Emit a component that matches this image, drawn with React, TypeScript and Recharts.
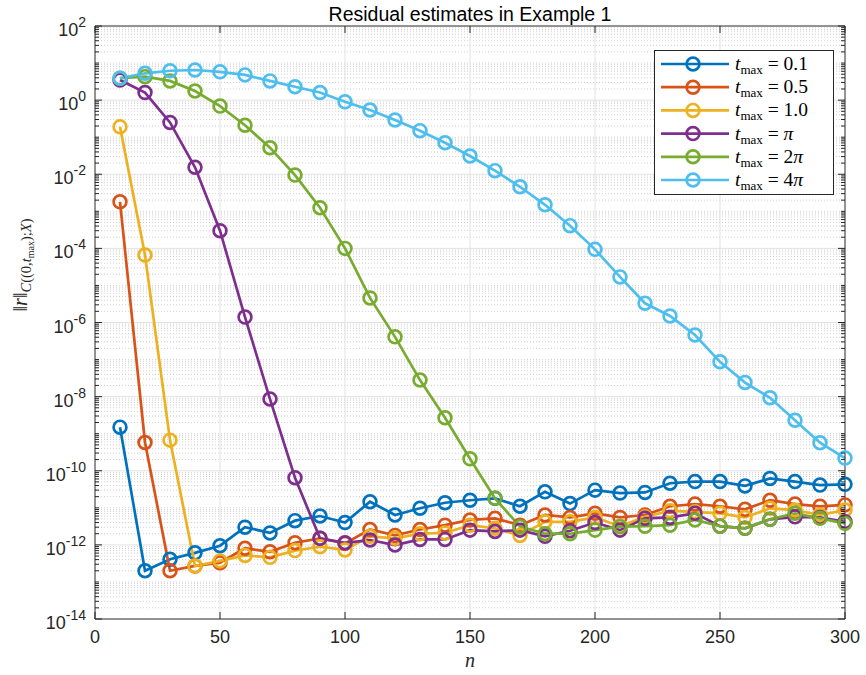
import { LineChart, Line, XAxis, YAxis, ReferenceLine, Legend } from 'recharts';

const CHART_W = 866;
const CHART_H = 675;
const MARGIN = { top: 26, right: 21, bottom: 0, left: 0 };
const Y_AXIS_W = 95;
const X_AXIS_H = 56;
const PLOT_W = CHART_W - MARGIN.left - MARGIN.right - Y_AXIS_W;
const PLOT_H = CHART_H - MARGIN.top - MARGIN.bottom - X_AXIS_H;

const AXIS = '#262626';
const SANS = '"Liberation Sans", Arial, Helvetica, sans-serif';
const SERIF = '"Liberation Serif", "Times New Roman", serif';

const nValues = [10, 20, 30, 40, 50, 60, 70, 80, 90, 100, 110, 120, 130, 140, 150, 160, 170, 180, 190, 200, 210, 220, 230, 240, 250, 260, 270, 280, 290, 300];

const resT01 = [1.5e-9, 2.0e-13, 4.1e-13, 6.1e-13, 9.5e-13, 3.0e-12, 2.1e-12, 4.5e-12, 6.0e-12, 4.0e-12, 1.46e-11, 6.4e-12, 9.7e-12, 1.37e-11, 1.6e-11, 1.8e-11, 1.1e-11, 2.7e-11, 1.3e-11, 3.0e-11, 2.5e-11, 2.6e-11, 4.6e-11, 5.1e-11, 5.1e-11, 3.9e-11, 6.2e-11, 5.1e-11, 4.1e-11, 4.3e-11];
const resT05 = [1.8e-3, 5.8e-10, 2.0e-13, 2.7e-13, 3.3e-13, 8.1e-13, 6.5e-13, 1.14e-12, 1.5e-12, 1.1e-12, 2.6e-12, 1.8e-12, 2.6e-12, 3.4e-12, 4.7e-12, 5.2e-12, 3.4e-12, 6.4e-12, 5.5e-12, 7.1e-12, 5.5e-12, 6.4e-12, 1.1e-11, 1.26e-11, 1.1e-11, 9.1e-12, 1.6e-11, 1.26e-11, 1.1e-11, 1.2e-11];
const resT1 = [0.19, 6.6e-5, 6.7e-10, 2.7e-13, 3.7e-13, 5.2e-13, 4.6e-13, 7.0e-13, 8.9e-13, 7.3e-13, 1.7e-12, 1.5e-12, 2.0e-12, 2.1e-12, 3.4e-12, 2.8e-12, 1.8e-12, 4.2e-12, 4.2e-12, 5.5e-12, 3.2e-12, 5.7e-12, 8.3e-12, 7.8e-12, 7.1e-12, 5.5e-12, 9.7e-12, 8.7e-12, 6.4e-12, 8.7e-12];
const resTPi = [3.5, 1.6, 0.25, 0.0154, 3.0e-4, 1.4e-6, 8.6e-9, 6.5e-11, 1.5e-12, 1.14e-12, 1.35e-12, 9.9e-13, 1.4e-12, 1.4e-12, 2.5e-12, 2.3e-12, 2.5e-12, 1.7e-12, 2.4e-12, 4.0e-12, 2.5e-12, 5.2e-12, 5.5e-12, 7.1e-12, 3.2e-12, 2.8e-12, 4.9e-12, 5.7e-12, 5.5e-12, 4.2e-12];
const resT2Pi = [3.9, 4.3, 3.3, 1.76, 0.69, 0.21, 0.052, 9.5e-3, 1.25e-3, 1.0e-4, 4.6e-6, 4.1e-7, 2.8e-8, 2.7e-9, 2.1e-10, 1.8e-11, 3.1e-12, 2.0e-12, 2.0e-12, 2.5e-12, 3.1e-12, 3.2e-12, 3.4e-12, 4.7e-12, 3.2e-12, 2.8e-12, 4.9e-12, 7.1e-12, 5.2e-12, 3.8e-12];
const resT4Pi = [3.9, 5.3, 6.2, 6.5, 5.8, 4.8, 3.3, 2.3, 1.6, 0.9, 0.54, 0.29, 0.15, 0.071, 0.031, 0.0125, 4.6e-3, 1.5e-3, 4.1e-4, 9.4e-5, 1.7e-5, 3.3e-6, 1.5e-6, 4.6e-7, 8.7e-8, 2.4e-8, 9.3e-9, 2.3e-9, 5.7e-10, 2.2e-10];

const seriesKeys = ['t01', 't05', 't1', 'tpi', 't2pi', 't4pi'];
const seriesLabels = ['0.1', '0.5', '1.0', 'π', '2π', '4π'];
const seriesColors = ['#0072BD', '#D95319', '#EDB120', '#7E2F8E', '#77AC30', '#4DBEEE'];
const seriesValues = [resT01, resT05, resT1, resTPi, resT2Pi, resT4Pi];

const xTicks = [0, 50, 100, 150, 200, 250, 300];
const xGrid = [50, 100, 150, 200, 250];
const yMajorTicks = [1e-14, 1e-12, 1e-10, 1e-8, 1e-6, 1e-4, 1e-2, 1e0, 1e2];
const yDecades = [-14, -13, -12, -11, -10, -9, -8, -7, -6, -5, -4, -3, -2, -1, 0, 1];
const yMinorMults = [2, 3, 4, 5, 6, 7, 8, 9];

const LINE_W = 2.7;
const DOT_R = 6.4;

const yMinorTicks: number[] = [];
yDecades.forEach((d) => {
  if (d % 2 !== 0) yMinorTicks.push(Number(`1e${d}`));
  yMinorMults.forEach((m) => yMinorTicks.push(Number(`${m}e${d}`)));
});
const yAllTicks = [...yMajorTicks, ...yMinorTicks].sort((a, b) => a - b);

const data = nValues.map((n, i) => {
  const row: Record<string, number> = { n };
  seriesKeys.forEach((k, j) => {
    row[k] = seriesValues[j][i];
  });
  return row;
});

function isMajor(v: number) {
  const lg = Math.log10(v);
  const e = Math.round(lg);
  return Math.abs(lg - e) < 1e-6 && e % 2 === 0;
}

function YTick(props: any) {
  const { x, y, payload } = props;
  const major = isMajor(payload.value);
  const len = major ? 7 : 4;
  const exp = Math.round(Math.log10(payload.value));
  return (
    <g>
      <line x1={x} x2={x + len} y1={y} y2={y} stroke={AXIS} strokeWidth={1} />
      <line x1={x + PLOT_W} x2={x + PLOT_W - len} y1={y} y2={y} stroke={AXIS} strokeWidth={1} />
      {major && (
        <text x={x - 9} y={y + 10} textAnchor="end" fontFamily={SANS} fontSize={18} fill={AXIS}>
          10<tspan dy={-9} fontSize={14}>{String(exp)}</tspan>
        </text>
      )}
    </g>
  );
}

function XTick(props: any) {
  const { x, y, payload } = props;
  return (
    <g>
      <line x1={x} x2={x} y1={y} y2={y - 7} stroke={AXIS} strokeWidth={1} />
      <line x1={x} x2={x} y1={y - PLOT_H} y2={y - PLOT_H + 7} stroke={AXIS} strokeWidth={1} />
      <text x={x} y={y + 24} textAnchor="middle" fontFamily={SANS} fontSize={18} fill={AXIS}>
        {payload.value}
      </text>
    </g>
  );
}

function LegendBox() {
  return (
    <svg width={180} height={145} style={{ display: 'block' }}>
      <rect x={0.5} y={0.5} width={179} height={144} fill="#fff" stroke={AXIS} strokeWidth={1} />
      {seriesKeys.map((k, i) => {
        const cy = 14 + i * 23.2;
        const lbl = seriesLabels[i];
        const hasPi = lbl.includes('π');
        const num = lbl.replace('π', '');
        return (
          <g key={k}>
            <line x1={7} x2={75} y1={cy} y2={cy} stroke={seriesColors[i]} strokeWidth={LINE_W} />
            <circle cx={39} cy={cy} r={DOT_R} fill="none" stroke={seriesColors[i]} strokeWidth={LINE_W} />
            <text x={81} y={cy + 6} fontFamily={SERIF} fontSize={19.5} fill="#000">
              <tspan fontStyle="italic">t</tspan>
              <tspan fontSize={13} dy={4}>max</tspan>
              <tspan dy={-4}>{' = ' + num}</tspan>
              {hasPi && <tspan fontStyle="italic">π</tspan>}
            </text>
          </g>
        );
      })}
    </svg>
  );
}

export default function App() {
  return (
    <div style={{ position: 'absolute', left: 0, top: 0, width: CHART_W, height: CHART_H, background: '#fff' }}>
      <LineChart width={CHART_W} height={CHART_H} data={data} margin={MARGIN}>
        {yMinorTicks.map((v) => (
          <ReferenceLine key={`ym${v}`} y={v} stroke="#d0d0d0" strokeWidth={1} strokeDasharray="1 2" />
        ))}
        {yMajorTicks.slice(1, -1).map((v) => (
          <ReferenceLine key={`yM${v}`} y={v} stroke="#e2e2e2" strokeWidth={1} />
        ))}
        {xGrid.map((v) => (
          <ReferenceLine key={`x${v}`} x={v} stroke="#e2e2e2" strokeWidth={1} />
        ))}
        <XAxis
          dataKey="n"
          type="number"
          domain={[0, 300]}
          ticks={xTicks}
          interval={0}
          tickSize={0}
          tickMargin={0}
          tickLine={false}
          axisLine={{ stroke: AXIS, strokeWidth: 1 }}
          height={X_AXIS_H}
          tick={<XTick />}
        />
        <YAxis
          type="number"
          scale="log"
          domain={[1e-14, 1e2]}
          allowDataOverflow
          ticks={yAllTicks}
          interval={0}
          tickSize={0}
          tickMargin={0}
          tickLine={false}
          axisLine={{ stroke: AXIS, strokeWidth: 1 }}
          width={Y_AXIS_W}
          tick={<YTick />}
        />
        {seriesKeys.map((k, i) => (
          <Line
            key={k}
            type="linear"
            dataKey={k}
            stroke={seriesColors[i]}
            strokeWidth={LINE_W}
            dot={{ r: DOT_R, fill: 'none', stroke: seriesColors[i], strokeWidth: LINE_W }}
            activeDot={false}
            isAnimationActive={false}
          />
        ))}
        <ReferenceLine y={1e2} stroke={AXIS} strokeWidth={1} />
        <ReferenceLine x={300} stroke={AXIS} strokeWidth={1} />
        <Legend
          layout="vertical"
          align="center"
          verticalAlign="middle"
          wrapperStyle={{ left: 654, top: 50, width: 180, height: 145 }}
          content={() => <LegendBox />}
        />
        <text x={470} y={21} textAnchor="middle" fontFamily={SANS} fontSize={19.5} fill="#000">
          Residual estimates in Example 1
        </text>
        <text x={470} y={667} textAnchor="middle" fontFamily={SERIF} fontStyle="italic" fontSize={20} fill={AXIS}>
          n
        </text>
        <text transform="translate(27,265) rotate(-90)" textAnchor="middle" fontFamily={SERIF} fontSize={20} fill={AXIS}>
          <tspan>‖</tspan>
          <tspan fontStyle="italic">r</tspan>
          <tspan>‖</tspan>
          <tspan fontSize={14.5} dy={4} fontStyle="italic">C</tspan>
          <tspan fontSize={14.5}>((0,</tspan>
          <tspan fontSize={14.5} fontStyle="italic">t</tspan>
          <tspan fontSize={10} dy={3}>max</tspan>
          <tspan fontSize={14.5} dy={-3}>);</tspan>
          <tspan fontSize={14.5} fontStyle="italic">X</tspan>
          <tspan fontSize={14.5}>)</tspan>
        </text>
      </LineChart>
    </div>
  );
}
